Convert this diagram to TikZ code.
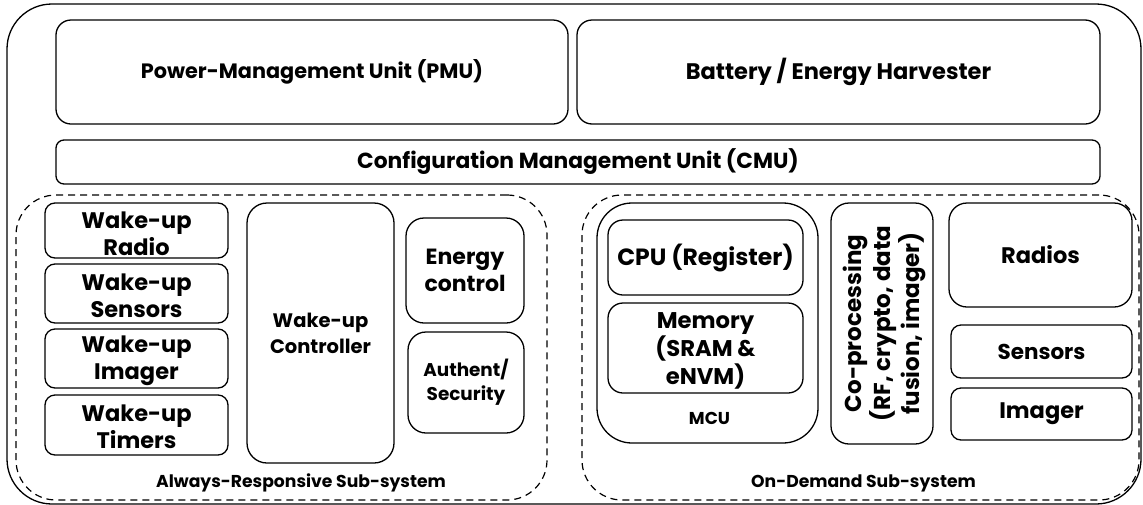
\documentclass[tikz,border=0pt]{standalone}
\usepackage{fontspec}
\setmainfont{Poppins}
\newcommand{\fs}[2]{\fontsize{#1}{#2}\selectfont\bfseries}
\begin{document}
\begin{tikzpicture}[x=1pt,y=-1pt,
  box/.style={draw, line width=1.3pt, rounded corners=#1, inner sep=0pt, align=center, font=\fs{22.5}{27}},
  box/.default=12pt,
  wbox/.style={box=10pt, minimum width=183pt, text depth=0pt, execute at begin node={\vspace*{4pt}}},
  grp/.style={draw, line width=1.2pt, dash pattern=on 7pt off 5pt, rounded corners=40pt, inner sep=0pt},
  lbl/.style={font=\fs{17.2}{20}, inner sep=0pt}]
\useasboundingbox (0,0) rectangle (1143,504);
\node[draw, line width=1.3pt, rounded corners=45pt, minimum width=1134pt, minimum height=500pt, inner sep=0pt] (outer) at (574,254) {};
\node[box=15pt, minimum width=512pt, minimum height=104pt, font=\fs{20.8}{25}] (pmu) at (312,72) {Power-Management Unit (PMU)};
\node[box=15pt, minimum width=523pt, minimum height=104pt, font=\fs{22.5}{27}] (bat) at (838.5,72) {Battery / Energy Harvester};
\node[box=8pt, minimum width=1044pt, minimum height=44pt, font=\fs{21.8}{26}] (cmu) at (578,162) {Configuration Management Unit (CMU)};
% Always-responsive
\node[grp, minimum width=531pt, minimum height=305pt] (ar) at (281.5,347.5) {};
\node[box=10pt, minimum width=183pt, minimum height=55pt] (wr) at (136.5,230.5) {};
\node[box=10pt, minimum width=183pt, minimum height=59pt] (ws) at (136.5,293.5) {};
\node[box=10pt, minimum width=183pt, minimum height=59pt] (wi) at (136.5,358.5) {};
\node[box=10pt, minimum width=183pt, minimum height=60pt] (wt) at (136.5,425) {};
\node[align=center, inner sep=0pt, font=\fs{22.5}{27}] (wrt) at ([yshift=-3pt]wr.center) {Wake-up\\Radio};
\node[align=center, inner sep=0pt, font=\fs{22.5}{27}] (wst) at ([yshift=-2pt]ws.center) {Wake-up\\Sensors};
\node[align=center, inner sep=0pt, font=\fs{22.5}{27}] (wit) at ([yshift=-2pt]wi.center) {Wake-up\\Imager};
\node[align=center, inner sep=0pt, font=\fs{22.5}{27}] (wtt) at ([yshift=-2pt]wt.center) {Wake-up\\Timers};
\node[box=20pt, minimum width=147pt, minimum height=260pt, font=\fs{19.5}{26}] (wc) at (320.5,333) {Wake-up\\Controller};
\node[box=18pt, minimum width=118pt, minimum height=105pt, font=\fs{22}{27}] (ec) at (465,270.5) {Energy\\control};
\node[box=18pt, minimum width=116pt, minimum height=101pt, font=\fs{18.4}{24}] (as) at (466,382.5) {Authent/\\Security};
\node[lbl] (arl) at (301,483) {Always-Responsive Sub-system};
% On-demand
\node[grp, minimum width=557pt, minimum height=305pt] (od) at (860.5,347.5) {};
\node[box=35pt, minimum width=221pt, minimum height=240pt] (mcu) at (707.5,323) {};
\node[box=15pt, minimum width=195pt, minimum height=75pt, font=\fs{23.5}{28}] (cpu) at (705.5,257.5) {CPU (Register)};
\node[box=15pt, minimum width=195pt, minimum height=90pt] (mem) at (705.5,348) {};
\node[align=center, inner sep=0pt, font=\fs{22.7}{28}] (memt) at ([yshift=-3pt]mem.center) {Memory\\(SRAM \&\\eNVM)};
\node[lbl] (mcul) at (709.5,418) {MCU};
\node[box=18pt, minimum width=102pt, minimum height=241pt] (cop) at (882,323.5) {};
\node[rotate=90, align=center, inner sep=0pt, font=\fs{23}{29}] (copt) at ([xshift=2pt]cop.center) {Co-processing\\(RF, crypto, data\\fusion, imager)};
\node[box=18pt, minimum width=183pt, minimum height=104pt] (rad) at (1040.5,255) {Radios};
\node[box=10pt, minimum width=181pt, minimum height=53pt, font=\fs{21.5}{27}] (sen) at (1041.5,351.5) {Sensors};
\node[box=10pt, minimum width=181pt, minimum height=52pt] (img) at (1041.5,414) {Imager};
\node[lbl] (odl) at (863.5,483) {On-Demand Sub-system};
\end{tikzpicture}
\end{document}
